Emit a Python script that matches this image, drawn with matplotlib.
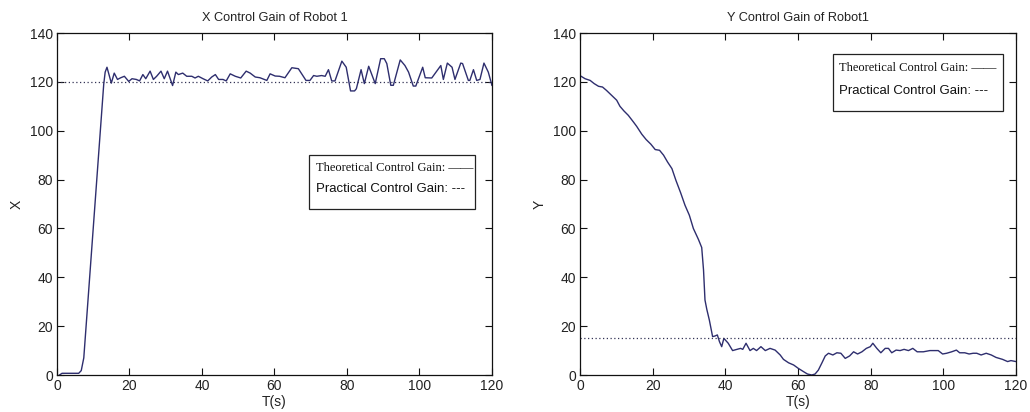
import matplotlib
matplotlib.use("Agg")
import matplotlib.pyplot as plt
from matplotlib.patches import Rectangle

# ---- data ----
x_time = [0.7, 1.4, 6.0, 6.7, 7.4, 12.9, 13.3, 13.8, 15.0, 15.8, 16.7, 17.6, 18.6, 19.8, 20.7, 21.9,
          22.8, 23.7, 24.5, 25.7, 26.6, 27.5, 28.7, 29.6, 30.5, 31.9, 32.8, 33.5, 34.7, 35.8, 37.2,
          38.1, 39.0, 40.3, 41.6, 42.7, 43.7, 44.6, 45.8, 46.7, 47.8, 49.2, 50.7, 52.2, 53.3, 54.7,
          56.0, 57.9, 58.8, 60.2, 61.4, 62.9, 64.8, 66.6, 68.7, 69.8, 70.8, 71.7, 73.0, 74.0, 74.9,
          75.8, 76.7, 78.6, 79.8, 81.0, 82.1, 82.6, 83.9, 84.8, 86.0, 87.8, 89.3, 90.3, 91.0, 92.1,
          92.8, 94.7, 96.0, 97.0, 98.3, 99.0, 100.9, 101.6, 103.4, 105.9, 106.6, 107.7, 109.0, 109.8,
          111.4, 111.9, 113.5, 113.9, 114.9, 115.8, 116.7, 117.8, 119.0, 120.0]
x_gain = [0.0, 0.7, 0.7, 1.8, 7.0, 119.0, 124.0, 126.0, 119.5, 123.6, 121.0, 121.7, 122.3, 120.2, 121.3,
          121.0, 120.4, 123.0, 121.3, 124.4, 121.0, 122.3, 124.4, 121.3, 124.4, 118.5, 124.0, 123.0,
          123.6, 122.3, 122.3, 121.6, 122.3, 121.3, 120.4, 122.0, 123.0, 121.0, 121.0, 120.4, 123.3,
          122.3, 121.6, 124.4, 123.6, 122.0, 121.7, 120.6, 123.3, 122.4, 122.3, 121.7, 125.8, 125.4,
          120.6, 120.6, 122.6, 122.3, 122.6, 122.3, 125.0, 120.4, 120.4, 128.5, 126.0, 116.3, 116.3,
          117.2, 125.0, 119.3, 126.4, 119.3, 129.5, 129.5, 127.5, 118.6, 118.6, 129.0, 126.7, 124.0,
          118.3, 118.3, 126.0, 121.7, 121.6, 126.7, 121.0, 127.7, 126.0, 121.0, 127.7, 127.5, 120.6,
          120.6, 125.0, 120.6, 121.0, 127.7, 124.0, 118.6]
x_practical = 120

y_time = [0.3, 1.4, 2.8, 3.9, 5.1, 6.2, 7.3, 8.7, 10.1, 11.0, 12.1, 13.3, 14.7, 15.6, 17.0, 18.2, 19.5,
          20.7, 21.9, 23.0, 24.1, 25.3, 26.4, 27.7, 28.9, 30.1, 31.2, 32.6, 33.5, 34.0, 34.4, 34.9,
          35.6, 36.5, 37.2, 37.8, 38.4, 39.0, 39.6, 40.8, 42.0, 43.2, 44.2, 44.8, 45.7, 46.8, 47.7,
          48.6, 49.8, 51.0, 52.3, 53.7, 55.1, 56.0, 57.4, 58.8, 60.1, 61.5, 62.6, 63.8, 64.7, 65.6,
          66.6, 67.5, 68.4, 69.6, 70.7, 71.8, 73.0, 74.2, 75.3, 76.4, 77.6, 78.8, 79.9, 80.6, 81.7,
          82.8, 84.0, 84.9, 85.8, 87.0, 88.1, 89.2, 90.4, 91.6, 92.8, 94.5, 96.3, 98.6, 99.8, 100.9,
          102.3, 103.6, 104.5, 105.9, 107.1, 108.2, 109.2, 110.4, 111.8, 113.2, 114.5, 116.3, 117.7,
          118.6, 120.0]
y_gain = [122.3, 121.3, 120.6, 119.3, 118.2, 117.9, 116.5, 114.5, 112.5, 110.0, 108.1, 106.3, 103.6,
          101.8, 98.6, 96.4, 94.5, 92.3, 92.0, 90.0, 87.2, 84.5, 79.7, 74.6, 69.5, 65.4, 60.0, 55.5,
          52.2, 43.0, 30.7, 26.9, 22.5, 15.7, 16.0, 16.4, 13.6, 11.6, 15.0, 13.0, 10.0, 10.5, 10.9,
          10.5, 13.0, 10.0, 10.9, 10.0, 11.6, 10.0, 10.9, 10.2, 8.2, 6.4, 5.0, 4.1, 2.7, 1.4, 0.4, 0.0,
          0.4, 2.0, 5.0, 7.8, 8.9, 8.2, 9.1, 8.9, 6.8, 7.8, 9.5, 8.6, 9.5, 10.9, 11.6, 13.0, 10.9, 9.1,
          10.9, 10.9, 9.1, 10.2, 10.0, 10.5, 10.0, 10.9, 9.5, 9.5, 10.0, 10.0, 8.6, 8.9, 9.5, 10.2, 9.1,
          9.1, 8.6, 8.9, 8.9, 8.2, 8.9, 8.2, 7.2, 6.4, 5.5, 5.9, 5.5]
y_practical = 15

titles = ["X Control Gain of Robot 1", "Y Control Gain of Robot1"]
ylabels = ["X", "Y"]
xlabel = "T(s)"
xticks = [0, 20, 40, 60, 80, 100, 120]
yticks = [0, 20, 40, 60, 80, 100, 120, 140]
legend_lines = ["Theoretical Control Gain: \u2014\u2014", "Practical Control Gain: ---"]

# ---- styling ----
line_color = "#2e2e6e"
text_color = "#222222"
plt.rcParams['font.family'] = ['Liberation Sans', 'DejaVu Sans']

fig = plt.figure(figsize=(10.3, 4.12), dpi=100)
ax1 = fig.add_axes([0.0553, 0.0898, 0.4223, 0.830])
ax2 = fig.add_axes([0.5631, 0.0898, 0.4233, 0.830])

series = [(ax1, x_time, x_gain, x_practical), (ax2, y_time, y_gain, y_practical)]
legend_pos = [
    # rect (x0, y0, w, h), text x, text y1, text y2
    ((0.579, 0.485, 0.382, 0.158), 0.595, 0.605, 0.545),
    ((0.580, 0.772, 0.390, 0.167), 0.594, 0.898, 0.830),
]

for i, (ax, t, g, p) in enumerate(series):
    ax.plot(t, g, color=line_color, lw=1.0)
    ax.axhline(p, color="#333355", lw=0.9, ls=(0, (1, 2)))
    ax.set_xlim(0, 120)
    ax.set_ylim(0, 140)
    ax.set_xticks(xticks)
    ax.set_yticks(yticks)
    ax.tick_params(direction='in', top=True, right=True, length=5, width=0.8,
                   labelsize=10, colors="#111111", labelcolor=text_color, pad=3)
    for s in ax.spines.values():
        s.set_linewidth(0.9)
        s.set_color("#111111")
    ax.set_title(titles[i], fontsize=9.2, color=text_color, pad=9)
    ax.set_xlabel(xlabel, fontsize=10, color=text_color, labelpad=1)
    ax.set_ylabel(ylabels[i], fontsize=10, color=text_color, labelpad=4)

    (rx, ry, rw, rh), tx, ty1, ty2 = legend_pos[i]
    ax.add_patch(Rectangle((rx, ry), rw, rh, transform=ax.transAxes, fill=True,
                           facecolor="white", edgecolor="#222222", lw=0.9, zorder=5))
    ax.text(tx, ty1, legend_lines[0], transform=ax.transAxes, fontsize=9,
            family=['Liberation Serif', 'DejaVu Serif'], va='center', ha='left',
            color="#111111", zorder=6)
    ax.text(tx, ty2, legend_lines[1], transform=ax.transAxes, fontsize=9.5,
            va='center', ha='left', color="#111111", zorder=6)

fig.savefig("out.png", dpi=100, facecolor="white")
